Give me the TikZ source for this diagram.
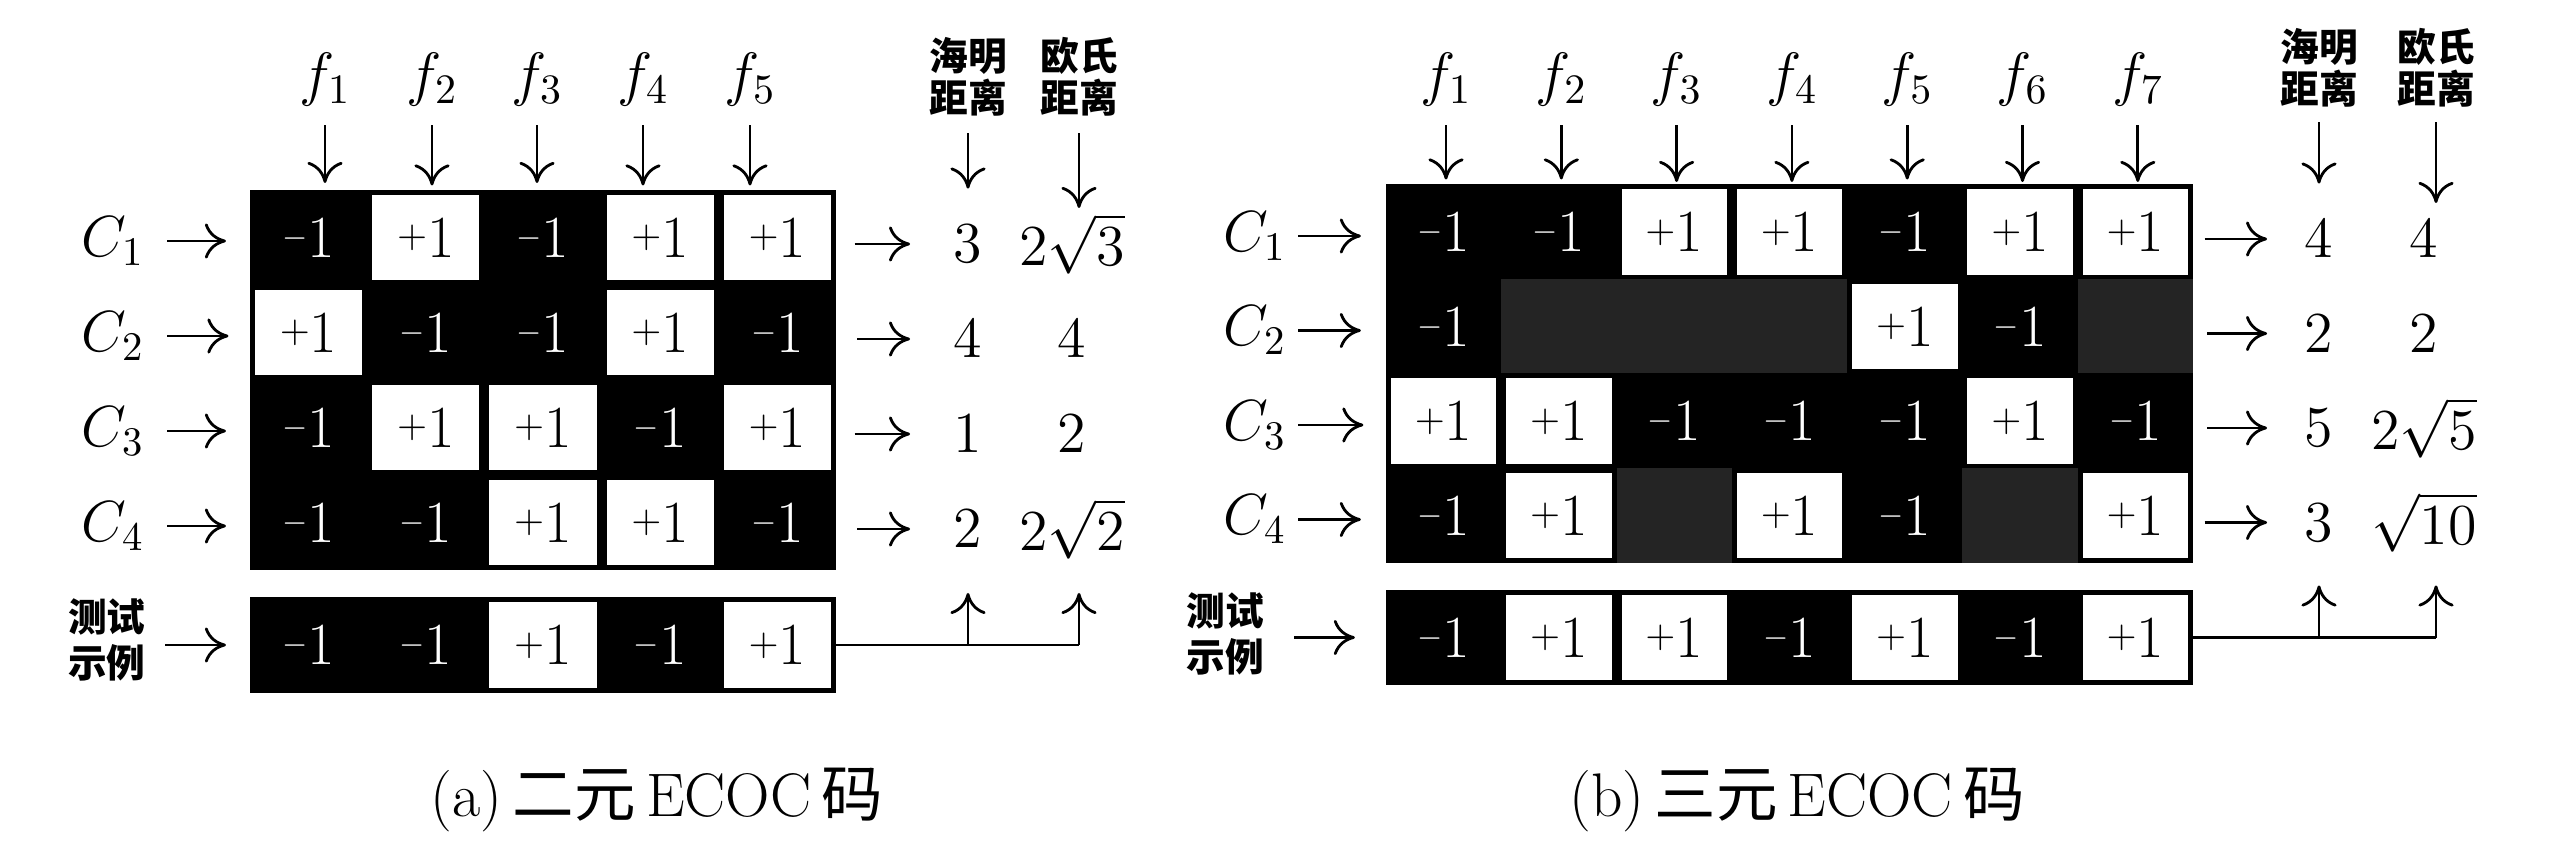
\RequirePackage{fix-cm}
\documentclass[tikz,border=0pt]{standalone}
\usepackage{fontspec}
\newfontfamily\cjk{Noto Sans CJK SC}
\usetikzlibrary{arrows.meta,calc}
\definecolor{zerocol}{gray}{0.14}
\newcommand\cw{1.172cm}
\newcommand\rh{0.95cm}
\newcommand\plsign{\raisebox{2.75pt}{\fontsize{11}{12}\selectfont$+$}}
\newcommand\misign{\raisebox{3.2pt}{\fontsize{9}{10}\selectfont$-$}}
\tikzset{
  txt/.style={inner sep=0pt, font=\fontsize{16.5}{19}\selectfont},
  ftxt/.style={inner sep=0pt, font=\fontsize{17}{20}\selectfont},
  captxt/.style={inner sep=0pt, font=\fontsize{17.5}{20}\selectfont},
  hdr/.style={inner sep=0pt, align=center, font=\cjk\bfseries\fontsize{11}{12}\selectfont},
  tst/.style={inner sep=0pt, align=center, font=\cjk\bfseries\fontsize{11}{13}\selectfont},
  cellbase/.style={inner sep=0pt, outer sep=0pt, minimum width=\cw, minimum height=\rh, font=\fontsize{17}{19}\selectfont},
  negc/.style={cellbase, fill=black, text=white, node contents={\misign 1}},
  posc/.style={cellbase, fill=white, draw=black, line width=0.05cm, minimum width=\cw-0.05cm, minimum height=\rh-0.05cm, node contents={\plsign 1}},
  zerc/.style={cellbase, fill=zerocol, node contents={}},
  arr/.style={line width=0.8pt, -{To[length=6pt,width=10pt]}},
  conn/.style={line width=0.8pt},
}
\begin{document}
\begin{tikzpicture}[x=0.01cm,y=-0.01cm]
\useasboundingbox (0,0) rectangle (2560,852);

% ================= panel (a) =================
\renewcommand\cw{1.172cm}
\foreach \r/\l in {1/{negc,posc,negc,posc,posc},2/{posc,negc,negc,posc,negc},3/{negc,posc,posc,negc,posc},4/{negc,negc,posc,posc,negc}}{
  \foreach \v [count=\c] in \l {
    \node (a-\r-\c) at ({308.6+117.2*(\c-1)},{237.5+95*(\r-1)}) [\v];
  }
}
\foreach \v [count=\c] in {negc,negc,posc,negc,posc}{
  \node (a-t-\c) at ({308.6+117.2*(\c-1)},645) [\v];
}
% feature labels
\foreach \x [count=\c] in {325,432,537,643,750}{
  \node[ftxt] (af\c) at (\x,80) {$f_{\c}$};
  \draw[arr, shorten <=0.18cm, shorten >=0.07cm] (af\c) -- (af\c |- a-1-\c.north);
}
% class labels
\foreach \r in {1,2,3,4}{
  \node[txt, anchor=east] (aC\r) at (145,{241+95*(\r-1)}) {$C_{\r}$};
  \draw[arr, shorten <=0.22cm, shorten >=0.24cm] (aC\r.east) -- (aC\r.east -| a-\r-1.west);
}
% headers
\node[hdr] (aHh) at (968,77) {海明\\距离};
\node[hdr] (aEh) at (1079,77) {欧氏\\距离};
% values
\foreach \r/\h/\e in {1/3/{2\sqrt{3}},2/4/4,3/1/2,4/2/{2\sqrt{2}}}{
  \node[txt] (aH\r) at (968,{244+95*(\r-1)}) {$\h$};
  \node[txt] (aE\r) at (1072,{244+95*(\r-1)}) {$\e$};
  \draw[arr, shorten <=0.21cm, shorten >=0.43cm] (a-\r-5.east |- aH\r) -- (aH\r);
}
\draw[arr, shorten <=0.16cm, shorten >=0.36cm] (aHh) -- (aH1);
\draw[arr, shorten <=0.16cm, shorten >=0.36cm] (aEh) -- (aEh |- aH1);
% test sample
\node[tst] (aT) at (107,640) {测试\\示例};
\draw[arr, shorten <=0.19cm, shorten >=0.24cm] (aT.east |- a-t-1) -- (a-t-1.west);
\draw[conn] (a-t-5.east) -- (a-t-5.east -| aEh);
\draw[arr] (a-t-5.east -| aHh) -- ($(a-t-5.north -| aHh)+(0,-7)$);
\draw[arr] (a-t-5.east -| aEh) -- ($(a-t-5.north -| aEh)+(0,-7)$);
\node[captxt] (capa) at (657,800) {(a)\,{\cjk 二元}\,ECOC\,{\cjk 码}};

% ================= panel (b) =================
\renewcommand\cw{1.153cm}
\foreach \r/\l in {1/{negc,negc,posc,posc,negc,posc,posc},2/{negc,zerc,zerc,zerc,posc,negc,zerc},3/{posc,posc,negc,negc,negc,posc,negc},4/{negc,posc,zerc,posc,negc,zerc,posc}}{
  \foreach \v [count=\c] in \l {
    \node (b-\r-\c) at ({1443.6+115.3*(\c-1)},{232+94.5*(\r-1)}) [\v];
  }
}
\foreach \v [count=\c] in {negc,posc,posc,negc,posc,negc,posc}{
  \node (b-t-\c) at ({1443.6+115.3*(\c-1)},637.5) [\v];
}
\foreach \c in {1,...,7}{
  \node[ftxt] (bf\c) at ({1446+115.3*(\c-1)},80) {$f_{\c}$};
  \draw[arr, shorten <=0.18cm, shorten >=0.05cm] (bf\c) -- (bf\c |- b-1-\c.north);
}
\foreach \r in {1,2,3,4}{
  \node[txt, anchor=east] (bC\r) at (1287,{236+94.5*(\r-1)}) {$C_{\r}$};
  \draw[arr, shorten <=0.11cm, shorten >=0.25cm] (bC\r.east) -- (bC\r.east -| b-\r-1.west);
}
\node[hdr] (bHh) at (2319,68) {海明\\距离};
\node[hdr] (bEh) at (2436,68) {欧氏\\距离};
\foreach \r/\h/\e in {1/4/4,2/2/2,3/5/{2\sqrt{5}},4/3/{\sqrt{10}}}{
  \node[txt] (bH\r) at (2319,{239+94.5*(\r-1)}) {$\h$};
  \node[txt] (bE\r) at (2424,{239+94.5*(\r-1)}) {$\e$};
  \draw[arr, shorten <=0.14cm, shorten >=0.37cm] (b-\r-7.east |- bH\r) -- (bH\r);
}
\draw[arr, shorten <=0.14cm, shorten >=0.36cm] (bHh) -- (bH1);
\draw[arr, shorten <=0.14cm, shorten >=0.36cm] (bEh) -- (bEh |- bH1);
\node[tst] (bT) at (1225,634) {测试\\示例};
\draw[arr, shorten <=0.30cm, shorten >=0.31cm] (bT.east |- b-t-1) -- (b-t-1.west);
\draw[conn] (b-t-7.east) -- (b-t-7.east -| bEh);
\draw[arr] (b-t-7.east -| bHh) -- ($(b-t-7.north -| bHh)+(0,-7)$);
\draw[arr] (b-t-7.east -| bEh) -- ($(b-t-7.north -| bEh)+(0,-7)$);
\node[captxt] (capb) at (1797,800) {(b)\,{\cjk 三元}\,ECOC\,{\cjk 码}};
\end{tikzpicture}
\end{document}
